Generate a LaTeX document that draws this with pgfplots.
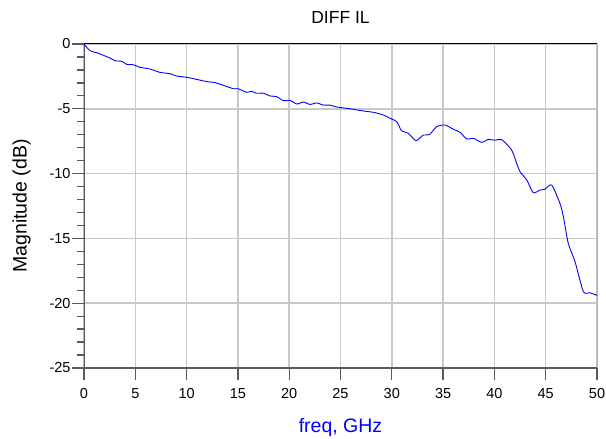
\documentclass[border=0pt]{standalone}
\usepackage{fontspec}
\setmainfont{Liberation Sans}
\usepackage{pgfplots}
\pgfplotsset{compat=1.18}

\definecolor{adsblue}{RGB}{0,0,255}
\definecolor{gridgray}{RGB}{200,200,200}
\definecolor{axisgray}{RGB}{90,90,90}

\begin{document}
\begin{tikzpicture}
	\begin{axis}[
			name=ax,
			width=513pt, height=324pt, scale only axis,
			xmin=0, xmax=50, ymin=-25, ymax=0,
			xtick={0,5,...,50}, ytick={-25,-20,...,0},
			minor y tick num=4,
			xtick pos=bottom, ytick pos=left,
			tick align=outside,
			major tick length=12pt, minor tick length=7pt,
			every tick/.style={axisgray, line width=1.3pt},
			grid=major,
			major grid style={gridgray, line width=1.5pt},
			axis line style={draw=none},
			/pgf/number format/assume math mode=true,
			ticklabel style={font=\fontsize{14.5}{17}\selectfont},
			xticklabel style={yshift=-5pt},
			yticklabel style={xshift=2pt},
			title={DIFF IL},
			title style={font=\fontsize{17.5}{20}\selectfont, yshift=11pt},
			xlabel={freq, GHz},
			xlabel style={font=\fontsize{19.5}{22}\selectfont, text=adsblue, yshift=-13pt},
			ylabel={Magnitude (dB)},
			ylabel style={font=\fontsize{19.5}{22}\selectfont, yshift=12pt},
		]
		% axis frame: grey left/bottom, black top/right
		\draw[axisgray, line width=2pt] (rel axis cs:0,1) -- (rel axis cs:0,0) -- (rel axis cs:1,0);
		\draw[black, line width=1pt] (rel axis cs:0,1) -- (rel axis cs:1,1) -- (rel axis cs:1,0);
		\addplot[adsblue, line width=0.9pt, smooth, tension=0.4] coordinates {
			(0,0) (0.58,-0.52) (1.23,-0.67) (1.88,-0.87) (2.53,-1.08) (3.02,-1.29)
			(3.67,-1.34) (4.16,-1.57) (4.8,-1.6) (5.46,-1.8) (6.43,-1.93) (7.4,-2.19)
			(8.38,-2.29) (9.03,-2.47) (10.0,-2.57) (10.98,-2.73) (11.96,-2.9) (12.77,-2.98)
			(13.58,-3.19) (14.55,-3.45) (15.04,-3.45) (15.85,-3.73) (16.34,-3.65) (16.8,-3.8)
			(17.48,-3.8) (18.13,-4.01) (18.78,-4.06) (19.43,-4.37) (20.08,-4.35) (20.73,-4.63)
			(21.38,-4.48) (22.03,-4.66) (22.68,-4.55) (23.33,-4.71) (23.98,-4.72) (24.63,-4.86)
			(25.93,-5.0) (27.22,-5.17) (28.2,-5.27) (29.17,-5.48) (29.99,-5.79) (30.48,-5.99)
			(30.96,-6.7) (31.61,-6.89) (32.36,-7.46) (33.07,-7.02) (33.66,-7.0) (34.37,-6.38)
			(35.19,-6.25) (36.0,-6.58) (36.65,-6.81) (37.3,-7.33) (37.94,-7.28) (38.76,-7.59)
			(39.41,-7.36) (40.06,-7.43) (40.71,-7.38) (41.68,-8.18) (42.17,-9.21) (42.5,-9.85)
			(43.15,-10.49) (43.79,-11.47) (44.44,-11.27) (44.93,-11.21) (45.58,-10.88) (46.39,-12.3)
			(46.72,-13.32) (47.2,-15.38) (47.86,-16.8) (48.67,-19.11) (49.3,-19.19) (50,-19.4)
		};
	\end{axis}
	\pgfresetboundingbox
	\path ([shift={(-84pt,-70pt)}]ax.south west) rectangle ([shift={(9pt,44pt)}]ax.north east);
\end{tikzpicture}
\end{document}
